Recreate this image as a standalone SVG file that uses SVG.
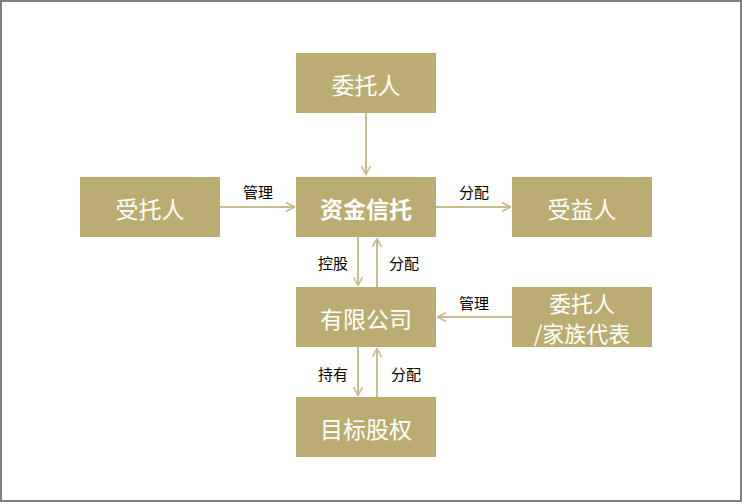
<svg xmlns="http://www.w3.org/2000/svg" width="742" height="504" viewBox="0 0 742 504">
<style>
.box{fill:#BBAD71;}
.t{font-family:"Noto Sans CJK SC","Liberation Sans",sans-serif;fill:#ffffff;font-size:23px;text-anchor:middle;dominant-baseline:central;}
.t2{font-size:22px;}
.b{font-weight:bold;}
.l{font-family:"Noto Sans CJK SC","Liberation Sans",sans-serif;fill:#000000;font-size:15px;text-anchor:middle;dominant-baseline:central;}
.c{stroke:#C8BC8C;stroke-width:2;fill:none;marker-end:url(#ah);}
</style>
<defs>
<marker id="ah" viewBox="0 0 10 10" refX="10" refY="5" markerWidth="10" markerHeight="10" markerUnits="userSpaceOnUse" orient="auto">
<path d="M1,0.5 L9.5,5 L1,9.5" fill="none" stroke="#C8BC8C" stroke-width="1.6"/>
</marker>
</defs>
<rect x="1" y="1" width="740" height="500" fill="#ffffff" stroke="#808080" stroke-width="2"/>
<g id="connectors">
<line class="c" x1="366" y1="113" x2="366" y2="175"/>
<line class="c" x1="220" y1="207" x2="295" y2="207"/>
<line class="c" x1="436" y1="207" x2="511" y2="207"/>
<line class="c" x1="358" y1="237" x2="358" y2="286"/>
<line class="c" x1="377" y1="287" x2="377" y2="238"/>
<line class="c" x1="512" y1="317" x2="437" y2="317"/>
<line class="c" x1="358" y1="347" x2="358" y2="396"/>
<line class="c" x1="377" y1="397" x2="377" y2="348"/>
<text class="l" x="258" y="191">管理</text>
<text class="l" x="474" y="191">分配</text>
<text class="l" x="333" y="262">控股</text>
<text class="l" x="404" y="262">分配</text>
<text class="l" x="474" y="302">管理</text>
<text class="l" x="333" y="373">持有</text>
<text class="l" x="406" y="373">分配</text>
</g>
<g id="n_weituoren">
<rect class="box" x="296" y="53" width="140" height="60"/>
<text class="t" x="366" y="84">委托人</text>
</g>
<g id="n_shoutuoren">
<rect class="box" x="80" y="177" width="140" height="60"/>
<text class="t" x="150" y="208">受托人</text>
</g>
<g id="n_zijinxintuo">
<rect class="box" x="296" y="177" width="140" height="60"/>
<text class="t b" x="366" y="208">资金信托</text>
</g>
<g id="n_shouyiren">
<rect class="box" x="512" y="177" width="140" height="60"/>
<text class="t" x="582" y="208">受益人</text>
</g>
<g id="n_youxiangongsi">
<rect class="box" x="296" y="287" width="140" height="60"/>
<text class="t" x="366" y="318">有限公司</text>
</g>
<g id="n_jiazu">
<rect class="box" x="512" y="287" width="140" height="60"/>
<text class="t t2" x="582" y="302">委托人</text>
<text class="t t2" x="582" y="332">/家族代表</text>
</g>
<g id="n_mubiao">
<rect class="box" x="296" y="397" width="140" height="60"/>
<text class="t" x="366" y="428">目标股权</text>
</g>
</svg>
